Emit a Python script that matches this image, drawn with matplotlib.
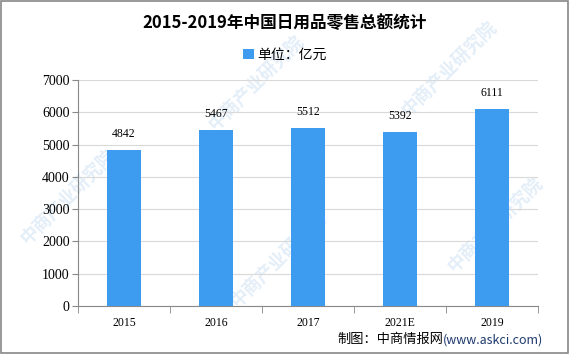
import numpy as np
import matplotlib.pyplot as plt
from matplotlib.patches import Rectangle

plt.rcParams['font.family'] = ['Noto Sans CJK SC', 'DejaVu Sans']

years = ['2015', '2016', '2017', '2021E', '2019']
sales = [4842, 5467, 5512, 5392, 6111]
yticks = [0, 1000, 2000, 3000, 4000, 5000, 6000, 7000]

fig = plt.figure(figsize=(5.69, 3.54), dpi=100)
ax = fig.add_axes([0.137, 0.1356, 0.809, 0.638], zorder=2)

# faint watermarks behind the chart
for (wx, wy) in [(0.36, 0.62), (0.70, 0.66), (0.03, 0.30), (0.40, 0.12), (0.78, 0.22)]:
    fig.text(wx, wy, '中商产业研究院', fontsize=13, color='#e3eef8', rotation=45,
             ha='left', va='bottom', fontweight='bold', zorder=0)

x = np.arange(len(years))
ax.bar(x, sales, width=0.37, color='#3d9cf0', zorder=3, label='单位：亿元')
for xi, v in zip(x, sales):
    ax.text(xi, v + 300, str(v), ha='center', va='bottom', fontsize=8.5,
            family=['Liberation Serif'])

ax.set_xlim(-0.5, len(years) - 0.5)
ax.set_ylim(0, 7000)
ax.set_yticks(yticks)
ax.set_yticklabels([str(t) for t in yticks], family=['Liberation Serif'], fontsize=10)
ax.set_xticks(x)
ax.set_xticklabels(years, family=['Liberation Serif'], fontsize=8.5)
ax.set_xticks(np.arange(len(years) + 1) - 0.5, minor=True)
ax.tick_params(axis='x', which='major', length=0, pad=8)
ax.tick_params(axis='x', which='minor', length=5, color='#888888')
ax.tick_params(axis='y', length=4, color='#888888', pad=2)
ax.grid(axis='y', color='#d9d9d9', linewidth=0.8, zorder=0)
ax.set_facecolor('none')
for s in ['top', 'right']:
    ax.spines[s].set_visible(False)
for s in ['left', 'bottom']:
    ax.spines[s].set_color('#888888')

fig.text(0.5, 0.935, '2015-2019年中国日用品零售总额统计', ha='center', va='center',
         fontsize=12, fontweight='bold')
ax.legend(loc='center', bbox_to_anchor=(0.5, 0.845), bbox_transform=fig.transFigure,
          frameon=False, fontsize=10, handlelength=0.8, handleheight=0.8,
          handletextpad=0.2)
fig.text(0.779, 0.04, '制图：中商情报网', ha='right', va='center', fontsize=9.5)
fig.text(0.779, 0.04, '(www.askci.com)', ha='left', va='center', fontsize=9,
         color='#1f3a6e')

fig.patches.append(Rectangle((0.002, 0.003), 0.996, 0.994, transform=fig.transFigure,
                             fill=False, edgecolor='#888888', linewidth=1.2))
fig.savefig('out.png', dpi=100)
